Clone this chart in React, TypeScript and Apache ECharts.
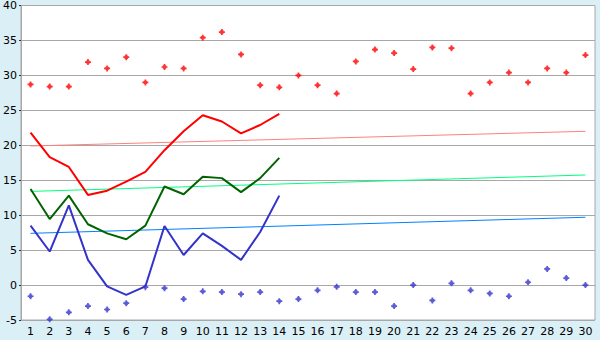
import React, { useEffect, useRef } from "react";
import * as echarts from "echarts";

const days = Array.from({ length: 30 }, (_, i) => String(i + 1));

const maxTemps = [28.7, 28.4, 28.4, 31.9, 31.0, 32.6, 29.0, 31.2, 31.0, 35.4, 36.2, 33.0, 28.6, 28.3, 30.0, 28.6, 27.4, 32.0, 33.7, 33.2, 30.9, 34.0, 33.9, 27.4, 29.0, 30.4, 29.0, 31.0, 30.4, 32.9];
const minTemps = [-1.6, -4.9, -3.9, -3.0, -3.5, -2.6, -0.3, -0.45, -2.0, -0.9, -1.0, -1.3, -1.0, -2.3, -2.0, -0.75, -0.25, -1.0, -1.0, -3.0, 0.0, -2.2, 0.25, -0.75, -1.2, -1.6, 0.4, 2.3, 1.0, 0.0];

const redLine = [21.8, 18.3, 16.9, 12.9, 13.5, 14.8, 16.2, 19.3, 22.0, 24.3, 23.4, 21.7, 22.9, 24.5];
const greenLine = [13.75, 9.45, 12.8, 8.7, 7.4, 6.55, 8.5, 14.1, 13.0, 15.5, 15.3, 13.3, 15.3, 18.2];
const blueLine = [8.5, 4.8, 11.4, 3.6, -0.2, -1.4, -0.2, 8.45, 4.3, 7.4, 5.6, 3.6, 7.6, 12.8];

const redTrend = [19.9, 22.0];
const greenTrend = [13.4, 15.75];
const blueTrend = [7.4, 9.7];

const plusPath =
  "path://M2.5,0 L4.5,0 L4.5,1.5 L5.5,1.5 L5.5,2.5 L7,2.5 L7,4.5 L5.5,4.5 L5.5,5.5 L4.5,5.5 L4.5,7 L2.5,7 L2.5,5.5 L1.5,5.5 L1.5,4.5 L0,4.5 L0,2.5 L1.5,2.5 L1.5,1.5 L2.5,1.5 Z";

export default function App() {
  const ref = useRef<HTMLDivElement>(null);
  useEffect(() => {
    if (!ref.current) return;
    const chart = echarts.init(ref.current, null, { renderer: "svg" });
    const font = "DejaVu Sans";
    const trend = (vals: number[], color: string) => ({
      type: "line",
      data: [[days[0], vals[0]], [days[days.length - 1], vals[1]]],
      showSymbol: false,
      symbol: "none",
      lineStyle: { color, width: 1 },
      z: 1,
    });
    const mainLine = (vals: number[], color: string) => ({
      type: "line",
      data: vals,
      symbol: "none",
      lineStyle: { color, width: 2 },
      z: 3,
    });
    chart.setOption({
      animation: false,
      backgroundColor: "#daeff6",
      grid: {
        left: 20,
        top: 5.5,
        right: 5,
        bottom: 20,
        show: true,
        backgroundColor: "#ffffff",
        borderColor: "#a8a8a8",
        borderWidth: 1,
      },
      xAxis: {
        type: "category",
        data: days,
        boundaryGap: true,
        axisLine: { lineStyle: { color: "#a8a8a8", width: 1 } },
        axisTick: { alignWithLabel: true, interval: 0, length: 5, lineStyle: { color: "#222" } },
        axisLabel: { interval: 0, color: "#000", fontFamily: font, fontSize: 11, margin: 6 },
        splitLine: { show: false },
      },
      yAxis: {
        type: "value",
        min: -5,
        max: 40,
        interval: 5,
        axisLine: { show: true, lineStyle: { color: "#a8a8a8", width: 1 } },
        axisTick: { show: true, length: 2, lineStyle: { color: "#333" } },
        axisLabel: { color: "#000", fontFamily: font, fontSize: 11, margin: 4 },
        splitLine: { lineStyle: { color: "#a8a8a8", width: 1 } },
      },
      series: [
        trend(redTrend, "#ff8080"),
        trend(greenTrend, "#00ff80"),
        trend(blueTrend, "#0080ff"),
        mainLine(redLine, "#ff0000"),
        mainLine(greenLine, "#006400"),
        mainLine(blueLine, "#3333cc"),
        {
          type: "scatter",
          data: maxTemps,
          symbol: plusPath,
          symbolSize: 6,
          itemStyle: { color: "#ff0000" },
          z: 4,
        },
        {
          type: "scatter",
          data: minTemps,
          symbol: plusPath,
          symbolSize: 6,
          itemStyle: { color: "#3333cc" },
          z: 4,
        },
      ],
    });
    return () => chart.dispose();
  }, []);
  return (
    <div
      ref={ref}
      style={{ position: "fixed", left: 0, top: 0, width: 600, height: 340 }}
    />
  );
}
